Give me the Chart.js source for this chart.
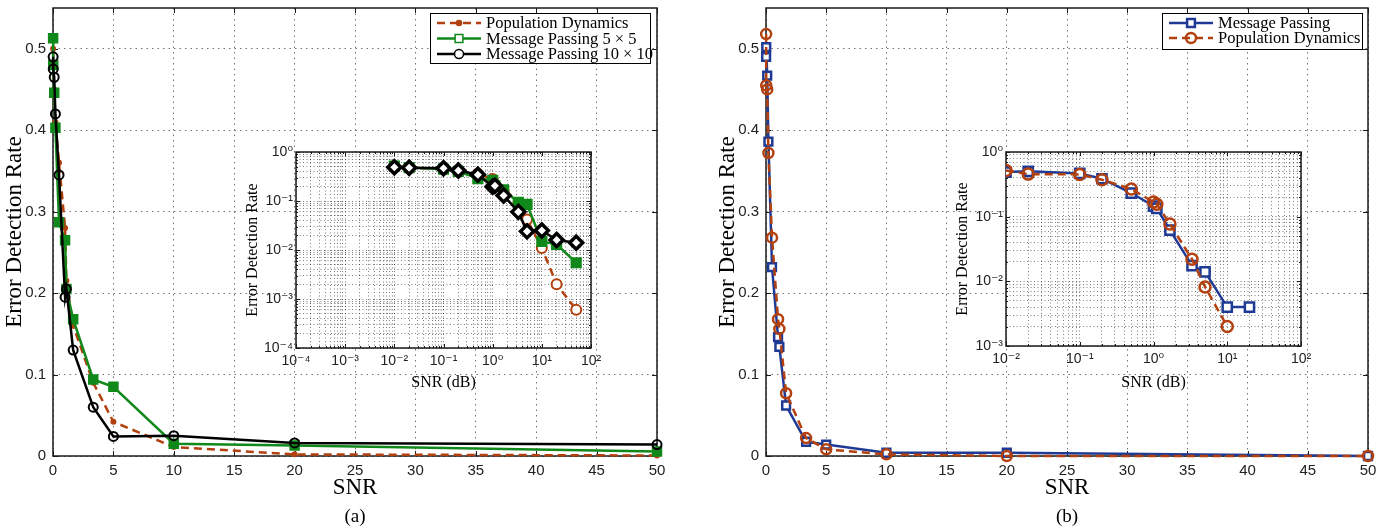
<!DOCTYPE html>
<html>
<head>
<meta charset="utf-8">
<script src="https://cdn.jsdelivr.net/npm/chart.js@4/dist/chart.umd.min.js"></script>
<style>
  body { margin: 0; background: #fff; }
  #fig { position: relative; width: 1395px; height: 531px; overflow: hidden; }
  #fig canvas { position: absolute; }
  .cap { position: absolute; top: 505px; width: 60px; height: 24px; line-height: 24px;
         text-align: center; font: 19px "Liberation Serif", serif; color: #000; }
</style>
</head>
<body>
<div id="fig">
  <canvas id="mainA" width="697" height="531" style="left:0;top:0"></canvas>
  <canvas id="insetA" width="380" height="265" style="left:230px;top:130px"></canvas>
  <canvas id="mainB" width="695" height="531" style="left:700px;top:0"></canvas>
  <canvas id="insetB" width="380" height="265" style="left:940px;top:130px"></canvas>
  <div class="cap" style="left:325px">(a)</div>
  <div class="cap" style="left:1037px">(b)</div>
</div>
<script>
// SNR values shared by every curve
const snr = [0.01, 0.02, 0.1, 0.2, 0.5, 1, 1.11, 1.67, 3.33, 5, 10, 20, 50];

// (a) error detection rate
const popDynA = [0.5, 0.48, 0.45, 0.41, 0.36, 0.28, 0.215, 0.16, 0.09, 0.042, 0.011, 0.002, 0.0006];
const mp5A = [0.513, 0.48, 0.446, 0.403, 0.287, 0.265, 0.205, 0.168, 0.094, 0.085, 0.015, 0.013, 0.0055];
const mp10A = [0.49, 0.475, 0.465, 0.42, 0.345, 0.195, 0.205, 0.13, 0.06, 0.024, 0.025, 0.016, 0.014];

// (b) error detection rate
const mpB = [0.49, 0.502, 0.467, 0.386, 0.232, 0.146, 0.134, 0.062, 0.0175, 0.014, 0.004, 0.004, 0];
const popDynB = [0.518, 0.455, 0.45, 0.372, 0.268, 0.168, 0.156, 0.077, 0.022, 0.0082, 0.002, 0, 0];

// axis ticks
const mainXTicks = [0, 5, 10, 15, 20, 25, 30, 35, 40, 45, 50];
const mainYTicks = [0, 0.1, 0.2, 0.3, 0.4, 0.5];
const insetXDecadesA = [1e-4, 1e-3, 1e-2, 1e-1, 1, 10, 100];
const insetYDecadesA = [1e-4, 1e-3, 1e-2, 1e-1, 1];
const insetXDecadesB = [1e-2, 1e-1, 1, 10, 100];
const insetYDecadesB = [1e-3, 1e-2, 1e-1, 1];

const ORANGE = "#b3400f";
const GREEN = "#11891a";
const BLACK = "#000000";
const BLUE = "#1f3a94";

const SANS = "'Liberation Sans', 'DejaVu Sans', sans-serif";
const SERIF = "'Liberation Serif', 'DejaVu Serif', serif";

function points(ys, keepZero) {
    return snr.map((x, i) => ({ x: x, y: ys[i] })).filter((p) => keepZero || p.y > 0);
}

// pin an axis box to a fixed size so the plot frame lands where we want it
function fixSize(size) {
    return (scale) => {
        if (scale.isHorizontal()) scale.height = size;
        else scale.width = size;
        scale.paddingLeft = 0;
        scale.paddingRight = 0;
        scale.paddingTop = 0;
        scale.paddingBottom = 0;
    };
}

function fixedTicks(values) {
    return (scale) => {
        scale.ticks = values.map((v) => ({ value: v }));
    };
}

// 1..9 per decade, decades flagged as major
function logTicks(decades) {
    return (scale) => {
        const ticks = [];
        decades.forEach((d, i) => {
            if (i === decades.length - 1) {
                ticks.push({ value: d, major: true });
                return;
            }
            for (let k = 1; k <= 9; k++) ticks.push({ value: d * k, major: k === 1 });
        });
        scale.ticks = ticks;
    };
}

const SUP = { "-": "\u207B", 0: "\u2070", 1: "\u00B9", 2: "\u00B2", 3: "\u00B3", 4: "\u2074", 5: "\u2075", 6: "\u2076", 7: "\u2077", 8: "\u2078", 9: "\u2079" };
function powerLabel(v) {
    const e = Math.log10(v);
    if (Math.abs(e - Math.round(e)) > 1e-9) return "";
    return "10" + String(Math.round(e)).split("").map((c) => SUP[c]).join("");
}

// white plot background, solid frame and inward tick marks
const frame = {
    id: "frame",
    beforeDraw(chart, args, opts) {
        const { ctx, chartArea: a } = chart;
        ctx.save();
        ctx.fillStyle = "#fff";
        ctx.fillRect(a.left, a.top, a.width, a.height);
        ctx.restore();
    },
    beforeDatasetsDraw(chart, args, opts) {
        const { ctx, chartArea: a, scales } = chart;
        ctx.save();
        ctx.strokeStyle = "#1a1a1a";
        ctx.lineWidth = 1;
        ctx.beginPath();
        scales.x.ticks.forEach((t) => {
            const px = Math.round(scales.x.getPixelForValue(t.value)) + 0.5;
            const len = t.label ? opts.tick : opts.tick / 2;
            ctx.moveTo(px, a.bottom);
            ctx.lineTo(px, a.bottom - len);
            ctx.moveTo(px, a.top);
            ctx.lineTo(px, a.top + len);
        });
        scales.y.ticks.forEach((t) => {
            const py = Math.round(scales.y.getPixelForValue(t.value)) + 0.5;
            const len = t.label ? opts.tick : opts.tick / 2;
            ctx.moveTo(a.left, py);
            ctx.lineTo(a.left + len, py);
            ctx.moveTo(a.right, py);
            ctx.lineTo(a.right - len, py);
        });
        ctx.stroke();
        ctx.lineWidth = opts.width;
        ctx.strokeRect(a.left, a.top, a.width, a.height);
        ctx.restore();
    },
};

function drawMarker(ctx, style, x, y, r, fill, stroke, lw) {
    ctx.beginPath();
    if (style === "rect") {
        const s = r * Math.SQRT1_2;
        ctx.rect(x - s, y - s, 2 * s, 2 * s);
    } else if (style === "rectRot") {
        ctx.moveTo(x, y - r);
        ctx.lineTo(x + r, y);
        ctx.lineTo(x, y + r);
        ctx.lineTo(x - r, y);
        ctx.closePath();
    } else {
        ctx.arc(x, y, r, 0, Math.PI * 2);
    }
    ctx.fillStyle = fill;
    ctx.fill();
    ctx.lineWidth = lw;
    ctx.strokeStyle = stroke;
    ctx.stroke();
}

// boxed legend drawn inside the plot area
const boxLegend = {
    id: "boxLegend",
    afterDraw(chart, args, opts) {
        if (!opts.items) return;
        const ctx = chart.ctx;
        ctx.save();
        ctx.fillStyle = "#fff";
        ctx.fillRect(opts.x, opts.y, opts.w, opts.h);
        opts.items.forEach((it, i) => {
            const ds = chart.data.datasets[it.dataset];
            const cy = opts.y + opts.rowTop + i * opts.rowH;
            const x0 = opts.x + 7;
            const x1 = opts.x + 51;
            ctx.beginPath();
            ctx.setLineDash(ds.borderDash || []);
            ctx.strokeStyle = ds.borderColor;
            ctx.lineWidth = ds.borderWidth;
            ctx.moveTo(x0, cy);
            ctx.lineTo(x1, cy);
            ctx.stroke();
            ctx.setLineDash([]);
            drawMarker(ctx, it.style, (x0 + x1) / 2, cy, it.r, it.fill, ds.borderColor, it.lw);
            ctx.fillStyle = "#000";
            ctx.font = "16.5px " + SERIF;
            ctx.textBaseline = "middle";
            ctx.fillText(ds.label, opts.x + 56, cy + 1);
        });
        ctx.strokeStyle = "#000";
        ctx.lineWidth = 1;
        ctx.strokeRect(opts.x + 0.5, opts.y + 0.5, opts.w, opts.h);
        ctx.restore();
    },
};

function mainScales(yWidth, yTitlePad) {
    return {
        x: {
            type: "linear",
            min: 0,
            max: 50,
            afterFit: fixSize(75),
            afterBuildTicks: fixedTicks(mainXTicks),
            grid: { color: "rgba(0,0,0,0.55)", lineWidth: 1, drawTicks: false },
            border: { display: false, dash: [1.5, 4] },
            ticks: { autoSkip: false, maxRotation: 0, padding: 6, color: "#222", font: { family: SANS, size: 15 } },
            title: { display: true, text: "SNR", color: "#000", font: { family: SERIF, size: 23 }, padding: { top: 0, bottom: 29 } },
        },
        y: {
            type: "linear",
            min: 0,
            max: 0.55,
            afterFit: fixSize(yWidth),
            afterBuildTicks: fixedTicks(mainYTicks),
            grid: { color: "rgba(0,0,0,0.55)", lineWidth: 1, drawTicks: false },
            border: { display: false, dash: [1.5, 4] },
            ticks: { autoSkip: false, padding: 7, color: "#222", font: { family: SANS, size: 15 }, callback: (v) => String(v) },
            title: { display: true, text: "Error Detection Rate", color: "#000", font: { family: SERIF, size: 23 }, padding: { top: yTitlePad, bottom: 0 } },
        },
    };
}

function insetScales(xDecades, yDecades, xHeight) {
    return {
        x: {
            type: "logarithmic",
            min: xDecades[0],
            max: xDecades[xDecades.length - 1],
            afterFit: fixSize(xHeight),
            afterBuildTicks: logTicks(xDecades),
            grid: { color: "rgba(0,0,0,0.5)", lineWidth: 1, drawTicks: false },
            border: { display: false, dash: [1, 2.5] },
            ticks: { autoSkip: false, maxRotation: 0, padding: 5, color: "#222", font: { family: SANS, size: 14 }, callback: powerLabel },
            title: { display: true, text: "SNR (dB)", color: "#000", font: { family: SERIF, size: 16 }, padding: { top: 0, bottom: 3 } },
        },
        y: {
            type: "logarithmic",
            min: yDecades[0],
            max: yDecades[yDecades.length - 1],
            afterFit: fixSize(66),
            afterBuildTicks: logTicks(yDecades),
            grid: { color: "rgba(0,0,0,0.5)", lineWidth: 1, drawTicks: false },
            border: { display: false, dash: [1, 2.5] },
            ticks: { autoSkip: false, padding: 3, color: "#222", font: { family: SANS, size: 14 }, callback: powerLabel },
            title: { display: true, text: "Error Detection Rate", color: "#000", font: { family: SERIF, size: 16 }, padding: { top: 13, bottom: 0 } },
        },
    };
}

function lineSet(label, data, color, extra) {
    return Object.assign(
        {
            label: label,
            data: data,
            borderColor: color,
            borderWidth: 2.5,
            pointBorderColor: color,
            pointBorderWidth: 2,
            pointHoverRadius: 0,
            tension: 0,
            fill: false,
        },
        extra
    );
}

const baseOptions = {
    responsive: false,
    animation: false,
    events: [],
};

// (a) linear plot
new Chart(document.getElementById("mainA"), {
    type: "line",
    data: {
        datasets: [
            lineSet("Population Dynamics", points(popDynA, true), ORANGE, {
                borderDash: [8, 5], pointStyle: "circle", pointRadius: 2, pointBackgroundColor: ORANGE, order: 2, clip: false,
            }),
            lineSet("Message Passing 5 \u00D7 5", points(mp5A, true), GREEN, {
                pointStyle: "rect", pointRadius: 6, pointBackgroundColor: GREEN, order: 1, clip: false,
            }),
            lineSet("Message Passing 10 \u00D7 10", points(mp10A, true), BLACK, {
                pointStyle: "circle", pointRadius: 4.5, pointBackgroundColor: "rgba(0,0,0,0)", order: 0, clip: false,
            }),
        ],
    },
    options: Object.assign({}, baseOptions, {
        layout: { padding: { top: 6, right: 40, left: 0, bottom: 0 } },
        scales: mainScales(53, 1),
        plugins: {
            legend: { display: false },
            tooltip: { enabled: false },
            frame: { tick: 5, width: 1.5 },
            boxLegend: {
                x: 430, y: 13, w: 220, h: 50, rowTop: 10, rowH: 15.5,
                items: [
                    { dataset: 0, style: "circle", r: 2.5, fill: ORANGE, lw: 1.5 },
                    { dataset: 1, style: "rect", r: 5.5, fill: "#fff", lw: 1.5 },
                    { dataset: 2, style: "circle", r: 4.5, fill: "#fff", lw: 1.5 },
                ],
            },
        },
    }),
    plugins: [frame, boxLegend],
});

// (a) log-log inset
new Chart(document.getElementById("insetA"), {
    type: "line",
    data: {
        datasets: [
            lineSet("Population Dynamics", points(popDynA, false), ORANGE, {
                borderDash: [8, 5], pointStyle: "circle", pointRadius: 5, pointBackgroundColor: "#fff", order: 2,
            }),
            lineSet("Message Passing 5 \u00D7 5", points(mp5A, false), GREEN, {
                pointStyle: "rect", pointRadius: 6.5, pointBackgroundColor: GREEN, order: 1,
            }),
            lineSet("Message Passing 10 \u00D7 10", points(mp10A, false), BLACK, {
                pointStyle: "rectRot", pointRadius: 6.5, pointBorderWidth: 3.5, pointBackgroundColor: "#fff", order: 0,
            }),
        ],
    },
    options: Object.assign({}, baseOptions, {
        layout: { padding: { top: 22, right: 19, left: 0, bottom: 0 } },
        scales: insetScales(insetXDecadesA, insetYDecadesA, 47),
        plugins: { legend: { display: false }, tooltip: { enabled: false }, frame: { tick: 4, width: 1.5 } },
    }),
    plugins: [frame],
});

// (b) linear plot
new Chart(document.getElementById("mainB"), {
    type: "line",
    data: {
        datasets: [
            lineSet("Message Passing", points(mpB, true), BLUE, {
                pointStyle: "rect", pointRadius: 5.5, pointBorderWidth: 2.5, pointBackgroundColor: "#fff", order: 1, clip: false,
            }),
            lineSet("Population Dynamics", points(popDynB, true), ORANGE, {
                borderDash: [8, 5], pointStyle: "circle", pointRadius: 5, pointBorderWidth: 2.5, pointBackgroundColor: "rgba(0,0,0,0)", order: 0, clip: false,
            }),
        ],
    },
    options: Object.assign({}, baseOptions, {
        layout: { padding: { top: 6, right: 27, left: 0, bottom: 0 } },
        scales: mainScales(66, 14),
        plugins: {
            legend: { display: false },
            tooltip: { enabled: false },
            frame: { tick: 5, width: 1.5 },
            boxLegend: {
                x: 462, y: 13, w: 200, h: 36, rowTop: 10, rowH: 15,
                items: [
                    { dataset: 0, style: "rect", r: 5.5, fill: "#fff", lw: 2.5 },
                    { dataset: 1, style: "circle", r: 5, fill: "rgba(0,0,0,0)", lw: 2.5 },
                ],
            },
        },
    }),
    plugins: [frame, boxLegend],
});

// (b) log-log inset
new Chart(document.getElementById("insetB"), {
    type: "line",
    data: {
        datasets: [
            lineSet("Message Passing", points(mpB, false), BLUE, {
                pointStyle: "rect", pointRadius: 6.5, pointBorderWidth: 2.5, pointBackgroundColor: "#fff", order: 1,
            }),
            lineSet("Population Dynamics", points(popDynB, false), ORANGE, {
                borderDash: [8, 5], pointStyle: "circle", pointRadius: 5.5, pointBorderWidth: 2.5, pointBackgroundColor: "rgba(0,0,0,0)", order: 0,
            }),
        ],
    },
    options: Object.assign({}, baseOptions, {
        layout: { padding: { top: 22, right: 19, left: 0, bottom: 0 } },
        scales: insetScales(insetXDecadesB, insetYDecadesB, 49),
        plugins: { legend: { display: false }, tooltip: { enabled: false }, frame: { tick: 4, width: 1.5 } },
    }),
    plugins: [frame],
});
</script>
</body>
</html>
